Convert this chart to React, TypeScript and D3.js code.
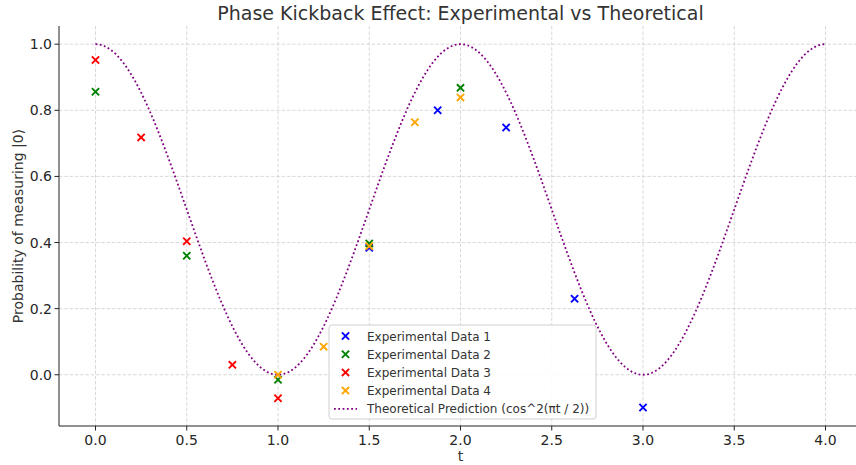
import React from 'react';
import * as d3 from 'd3';

const tData1 = [1.5, 1.875, 2.25, 2.625, 3.0];
const pData1 = [0.384, 0.8, 0.748, 0.23, -0.099];
const tData2 = [0, 0.5, 1.0, 1.5, 2.0];
const pData2 = [0.856, 0.36, -0.015, 0.397, 0.868];
const tData3 = [0, 0.25, 0.5, 0.75, 1.0];
const pData3 = [0.952, 0.718, 0.404, 0.03, -0.071];
const tData4 = [1.0, 1.25, 1.5, 1.75, 2.0];
const pData4 = [0.0, 0.085, 0.389, 0.764, 0.839];

const seriesNames = ['Experimental Data 1', 'Experimental Data 2', 'Experimental Data 3', 'Experimental Data 4'];
const seriesColors = ['#0000ff', '#008000', '#ff0000', '#ffa500'];
const theoryLabel = 'Theoretical Prediction (cos^2(πt / 2))';

const xTicks = [0, 0.5, 1, 1.5, 2, 2.5, 3, 3.5, 4];
const yTicks = [0, 0.2, 0.4, 0.6, 0.8, 1.0];

const W = 856;
const H = 465;
const left = 59, top = 26, bottom = 426, right = 862;
const font = 'DejaVu Sans, sans-serif';

const theory = d3.range(0, 401).map(i => {
  const t = (i / 400) * 4;
  return [t, Math.cos((Math.PI * t) / 2) ** 2];
});

function Cross({ x, y, color }: { x: number; y: number; color: string }) {
  const s = 3.6;
  return (
    <path
      d={`M${x - s},${y - s}L${x + s},${y + s}M${x - s},${y + s}L${x + s},${y - s}`}
      stroke={color}
      strokeWidth={1.9}
      fill="none"
    />
  );
}

export default function App() {
  const x = d3.scaleLinear().domain([-0.2, 4.2]).range([left, right]);
  const y = d3.scaleLinear().domain([-0.155, 1.055]).range([bottom, top]);

  const line = d3.line<number[]>().x(d => x(d[0])).y(d => y(d[1]));

  const sets = [
    [tData1, pData1],
    [tData2, pData2],
    [tData3, pData3],
    [tData4, pData4],
  ];

  const legX = 329, legY = 325, rowH = 18.2;

  return (
    <svg width={W} height={H} style={{ position: 'absolute', left: 0, top: 0, background: '#fff' }} fontFamily={font}>
      <defs>
        <clipPath id="plot">
          <rect x={left} y={top} width={right - left} height={bottom - top} />
        </clipPath>
      </defs>

      {/* grid */}
      <g stroke="#cfcfcf" strokeWidth={0.8} strokeDasharray="3.5,1.8">
        {xTicks.map(t => (
          <line key={'gx' + t} x1={x(t)} x2={x(t)} y1={top} y2={bottom} />
        ))}
        {yTicks.map(t => (
          <line key={'gy' + t} x1={left} x2={W} y1={y(t)} y2={y(t)} />
        ))}
      </g>

      {/* theoretical curve */}
      <path
        d={line(theory) || ''}
        fill="none"
        stroke="#800080"
        strokeWidth={1.8}
        strokeDasharray="1.8,2.5"
        clipPath="url(#plot)"
      />

      {/* experimental points */}
      {sets.map((s, i) =>
        s[0].map((t, j) => <Cross key={i + '-' + j} x={x(t)} y={y(s[1][j])} color={seriesColors[i]} />)
      )}

      {/* spines */}
      <line x1={left} x2={left} y1={top} y2={bottom} stroke="#222" strokeWidth={1} />
      <line x1={left} x2={W} y1={bottom} y2={bottom} stroke="#222" strokeWidth={1} />

      {/* x ticks */}
      {xTicks.map(t => (
        <g key={'xt' + t}>
          <line x1={x(t)} x2={x(t)} y1={bottom} y2={bottom + 4.5} stroke="#222" />
          <text x={x(t)} y={bottom + 19} textAnchor="middle" fontSize={14} fill="#262626">
            {t.toFixed(1)}
          </text>
        </g>
      ))}
      {/* y ticks */}
      {yTicks.map(t => (
        <g key={'yt' + t}>
          <line x1={left - 4.5} x2={left} y1={y(t)} y2={y(t)} stroke="#222" />
          <text x={left - 7} y={y(t) + 5} textAnchor="end" fontSize={14} fill="#262626">
            {t.toFixed(1)}
          </text>
        </g>
      ))}

      {/* labels */}
      <text x={(left + right) / 2} y={20} textAnchor="middle" fontSize={19} fill="#333">
        Phase Kickback Effect: Experimental vs Theoretical
      </text>
      <text x={(left + right) / 2} y={461} textAnchor="middle" fontSize={14} fill="#333">
        t
      </text>
      <text
        transform={`translate(23,${(top + bottom) / 2}) rotate(-90)`}
        textAnchor="middle"
        fontSize={14}
        fill="#333"
      >
        Probability of measuring |0⟩
      </text>

      {/* legend */}
      <rect x={legX} y={legY} width={267} height={94} rx={3} fill="#fff" fillOpacity={0.85} stroke="#d0d0d0" />
      {seriesNames.map((name, i) => (
        <g key={name}>
          <Cross x={legX + 16.5} y={legY + 11 + i * rowH} color={seriesColors[i]} />
          <text x={legX + 38} y={legY + 15.5 + i * rowH} fontSize={12} fill="#333">
            {name}
          </text>
        </g>
      ))}
      <line
        x1={legX + 5}
        x2={legX + 28}
        y1={legY + 11 + 4 * rowH}
        y2={legY + 11 + 4 * rowH}
        stroke="#800080"
        strokeWidth={1.8}
        strokeDasharray="1.8,2.5"
      />
      <text x={legX + 38} y={legY + 15.5 + 4 * rowH} fontSize={12} fill="#333">
        {theoryLabel}
      </text>
    </svg>
  );
}
